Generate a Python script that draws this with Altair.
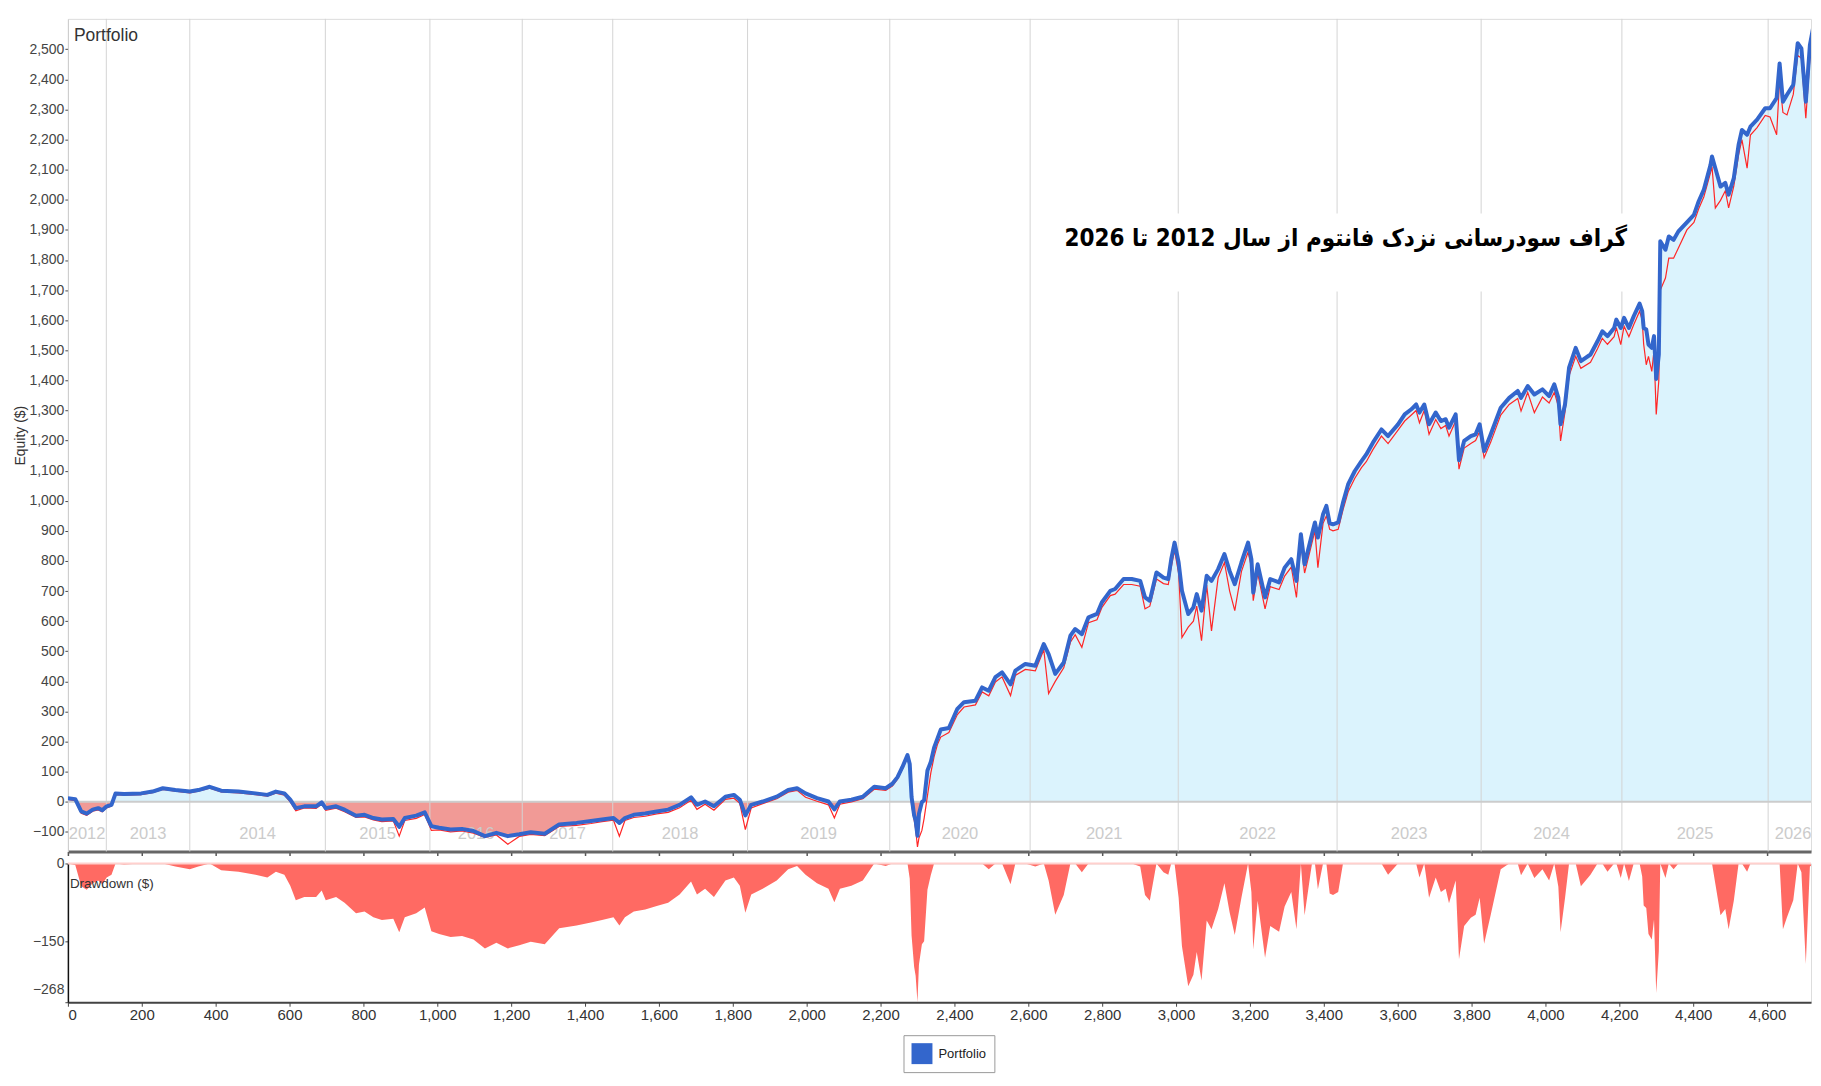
import altair as alt
import pandas as pd

# ---------------- data ----------------
trades = [
    0, 20, 36, 51, 67, 82, 93, 105, 118, 129,
    152, 198, 229, 257, 291, 330, 353, 384, 415, 462,
    508, 540, 563, 586, 602, 617, 640, 672, 687, 698,
    726, 749, 780, 803, 827, 850, 881, 897, 912, 943,
    966, 984, 1005, 1036, 1067, 1098, 1129, 1160, 1191, 1222,
    1253, 1291, 1330, 1377, 1416, 1446, 1477, 1493, 1508, 1532,
    1563, 1594, 1625, 1656, 1687, 1703, 1725, 1749, 1780, 1803,
    1819, 1834, 1850, 1881, 1919, 1950, 1974, 1997, 2028, 2059,
    2075, 2090, 2121, 2152, 2183, 2214, 2232, 2246, 2259, 2273,
    2279, 2284, 2291, 2295, 2300, 2304, 2312, 2318, 2327, 2336,
    2345, 2354, 2363, 2385, 2408, 2426, 2457, 2475, 2493, 2511,
    2529, 2552, 2565, 2592, 2619, 2642, 2655, 2673, 2696, 2714,
    2727, 2745, 2763, 2786, 2799, 2822, 2835, 2858, 2880, 2903,
    2916, 2929, 2947, 2966, 2979, 2987, 2996, 3007, 3016, 3033,
    3047, 3056, 3069, 3083, 3096, 3114, 3131, 3145, 3159, 3177,
    3195, 3204, 3209, 3221, 3241, 3255, 3279, 3294, 3312, 3326,
    3338, 3348, 3368, 3376, 3384, 3398, 3407, 3416, 3425, 3439,
    3452, 3466, 3484, 3502, 3515, 3533, 3556, 3574, 3601, 3619,
    3637, 3650, 3659, 3672, 3685, 3703, 3717, 3730, 3739, 3757,
    3766, 3780, 3798, 3811, 3822, 3834, 3852, 3879, 3902, 3925,
    3934, 3952, 3970, 3992, 4010, 4024, 4035, 4041, 4053, 4064,
    4082, 4096, 4122, 4141, 4154, 4168, 4186, 4192, 4204, 4213,
    4226, 4239, 4255, 4262, 4266, 4273, 4279, 4288, 4294, 4300,
    4307, 4311, 4325, 4334, 4347, 4360, 4383, 4402, 4415, 4429,
    4447, 4451, 4460, 4474, 4487, 4496, 4510, 4523, 4532, 4546,
    4555, 4573, 4595, 4608, 4626, 4634, 4643, 4654, 4671, 4683,
    4693, 4705, 4716, 4729, 4738,
]

equity = [
    12, 9, -32, -39, -26, -21, -28, -15, -10, 28,
    26, 28, 34, 45, 39, 34, 39, 50, 37, 34,
    28, 23, 34, 28, 7, -21, -15, -15, -2, -21,
    -15, -26, -46, -43, -54, -59, -57, -83, -54, -46,
    -35, -81, -86, -92, -90, -97, -114, -103, -114, -108,
    -101, -106, -75, -70, -64, -59, -54, -70, -54, -43,
    -39, -32, -26, -10, 15, -10, 1, -15, 17, 23,
    7, -45, -10, 1, 17, 39, 45, 28, 12, 1,
    -25, 1, 7, 17, 50, 45, 60, 82, 115, 155,
    126, 16, -45, -62, -113, -40, -1, 5, 104, 132,
    180, 210, 240, 245, 309, 331, 336, 380, 369, 414,
    430, 390, 436, 458, 452, 524, 491, 425, 463, 552,
    574, 557, 613, 624, 662, 701, 707, 740, 740, 734,
    679, 668, 762, 745, 740, 806, 861, 795, 701, 624,
    646, 690, 635, 751, 734, 773, 823, 767, 723, 795,
    861, 806, 695, 789, 679, 740, 729, 778, 806, 734,
    889, 789, 889, 928, 878, 955, 983, 925, 922, 928,
    994, 1055, 1099, 1132, 1154, 1193, 1237, 1215, 1254, 1287,
    1304, 1320, 1293, 1320, 1254, 1293, 1265, 1271, 1243, 1287,
    1135, 1199, 1215, 1221, 1254, 1165, 1221, 1309, 1342, 1365,
    1342, 1381, 1353, 1370, 1348, 1387, 1342, 1254, 1320, 1442,
    1508, 1464, 1486, 1530, 1563, 1547, 1574, 1602, 1574, 1608,
    1574, 1613, 1655, 1630, 1574, 1569, 1519, 1508, 1547, 1405,
    1486, 1862, 1834, 1878, 1867, 1895, 1925, 1950, 1995, 2034,
    2116, 2144, 2105, 2044, 2056, 2017, 2072, 2183, 2232, 2216,
    2243, 2266, 2304, 2304, 2338, 2453, 2326, 2349, 2382, 2520,
    2503, 2326, 2514, 2600, 2590,
]

equity_low = [
    8, 4, -38, -45, -31, -27, -33, -20, -14, 24,
    22, 24, 30, 41, 35, 30, 35, 45, 33, 30,
    24, 19, 29, 22, 0, -30, -20, -22, -8, -28,
    -21, -33, -52, -50, -60, -66, -63, -114, -62, -55,
    -42, -95, -93, -100, -97, -104, -118, -110, -141, -115,
    -108, -112, -82, -78, -72, -66, -61, -114, -62, -52,
    -48, -40, -35, -20, 5, -25, -8, -28, 8, 12,
    -5, -92, -20, -6, 10, 32, 38, 15, 2, -10,
    -54, -8, 0, 10, 42, 38, 52, 75, 108, 148,
    110, -10, -60, -90, -150, -120, -95, -55, 20, 95,
    150, 190, 215, 230, 290, 315, 322, 365, 352, 398,
    415, 353, 420, 440, 435, 505, 360, 400, 445, 530,
    555, 513, 595, 605, 645, 685, 690, 722, 722, 716,
    641, 650, 740, 725, 722, 780, 835, 760, 546, 580,
    600, 650, 535, 720, 568, 745, 795, 701, 635, 765,
    830, 780, 668, 760, 641, 715, 705, 750, 780, 679,
    860, 760, 860, 900, 778, 925, 950, 905, 900, 905,
    970, 1030, 1075, 1110, 1130, 1170, 1215, 1190, 1235, 1265,
    1285, 1300, 1259, 1300, 1221, 1270, 1240, 1250, 1215, 1265,
    1105, 1175, 1190, 1200, 1230, 1143, 1195, 1285, 1320, 1340,
    1298, 1360, 1293, 1345, 1325, 1360, 1315, 1199, 1295, 1415,
    1480, 1440, 1460, 1505, 1540, 1520, 1545, 1575, 1519, 1580,
    1545, 1585, 1630, 1600, 1520, 1452, 1480, 1430, 1500, 1287,
    1400, 1700, 1740, 1806, 1806, 1840, 1900, 1925, 1970, 2010,
    2090, 2110, 1973, 1998, 2030, 1973, 2045, 2150, 2200, 2105,
    2215, 2240, 2280, 2275, 2216, 2400, 2290, 2282, 2350, 2480,
    2470, 2271, 2470, 2570, 2565,
]

year_labels = ["2012", "2013", "2014", "2015", "2016", "2017", "2018", "2019",
               "2020", "2021", "2022", "2023", "2024", "2025", "2026"]
year_bounds = [0, 104, 330, 697, 980, 1230, 1475, 1840, 2225, 2605, 3006,
               3436, 3826, 4207, 4603, 4738]

x_ticks = list(range(0, 4701, 200))
y_ticks = list(range(-100, 2501, 100))
dd_ticks = [0, -150, -268]

series_name = "Portfolio"
title_text = "گراف سودرسانی نزدک فانتوم از سال 2012 تا 2026"

# ---------------- layout constants ----------------
X_MAX = 4719
W = 1746
H_TOP = 834
H_DD = 139
TOP_DOMAIN = [-165, 2601]
DD_DOMAIN = [-268, 0]
FONT = "Liberation Sans, Arial, sans-serif"

df = pd.DataFrame({"trade": trades, "equity": equity, "low": equity_low})
df["series"] = series_name
years = pd.DataFrame({
    "year": year_labels,
    "mid": [(a + b) / 2 for a, b in zip(year_bounds[:-1], year_bounds[1:])],
})
grid = pd.DataFrame({"trade": year_bounds[1:-1]})
one = pd.DataFrame({"t": [title_text]})

x_scale = alt.Scale(domain=[0, X_MAX], nice=False, zero=False)
y_scale = alt.Scale(domain=TOP_DOMAIN, nice=False, zero=False)
dd_scale = alt.Scale(domain=DD_DOMAIN, nice=False, zero=False)

top_x_axis = alt.Axis(values=x_ticks, labels=False, ticks=True, tickSize=4, tickColor="#555",
                      tickWidth=1.5, domainColor="#666", domainWidth=3, grid=False, title=None)
top_y_axis = alt.Axis(values=y_ticks, format=",d", labelFont=FONT, labelFontSize=14,
                      labelColor="#444", tickColor="#444", tickSize=3, labelPadding=1,
                      domainColor="#cccccc", domainWidth=1, grid=False, title="Equity ($)",
                      titleFont=FONT, titleFontSize=14,
                      titleFontWeight="normal", titleColor="#333", titlePadding=1)

X_TOP = alt.X("trade:Q", scale=x_scale, axis=top_x_axis)


def y_top(field):
    return alt.Y(field, scale=y_scale, axis=top_y_axis)


base = alt.Chart(df)

pos_fill = base.transform_calculate(
    val="max(datum.equity, 0)", zero="0"
).mark_area(color="#dbf3fd", clip=True).encode(
    x=X_TOP, y=y_top("val:Q"), y2="zero:Q",
)
neg_fill = base.transform_calculate(
    val="min(datum.equity, 0)", zero="0"
).mark_area(color="#f19a96", clip=True).encode(
    x=X_TOP, y=y_top("val:Q"), y2="zero:Q",
)
grid_rules = alt.Chart(grid).mark_rule(color="#d4d4d4", strokeWidth=1).encode(x=X_TOP)
year_text = alt.Chart(years).mark_text(
    font=FONT, fontSize=16.5, color="#cbcbcb", baseline="middle", align="center", clip=True
).encode(
    x=alt.X("mid:Q", scale=x_scale, axis=top_x_axis),
    y=alt.value(H_TOP - 18),
    text="year:N",
)
zero_rule = alt.Chart(pd.DataFrame({"val": [0]})).mark_rule(
    color="#cccccc", strokeWidth=2
).encode(y=y_top("val:Q"))
title_bg = alt.Chart(one).mark_rect(color="white").encode(
    x=alt.value(990), x2=alt.value(1570), y=alt.value(195), y2=alt.value(273)
)
title_mark = alt.Chart(one).mark_text(
    font="DejaVu Sans Condensed, DejaVu Sans", fontWeight="bold", fontSize=24, color="black",
    align="center", baseline="middle"
).encode(x=alt.value(1280), y=alt.value(221), text="t:N")
panel_label = alt.Chart(pd.DataFrame({"t": [series_name]})).mark_text(
    font=FONT, fontSize=17.5, color="#333", align="left", baseline="middle"
).encode(x=alt.value(6), y=alt.value(17), text="t:N")
red_line = base.mark_line(color="#ff2626", strokeWidth=1.2, clip=True).encode(
    x=X_TOP, y=y_top("low:Q"),
)
blue_line = base.mark_line(strokeWidth=4, strokeJoin="round", clip=True).encode(
    x=X_TOP, y=y_top("equity:Q"),
    color=alt.Color(
        "series:N",
        scale=alt.Scale(domain=[series_name], range=["#3366cc"]),
        legend=alt.Legend(
            title=None, orient="none", legendX=837, legendY=1018,
            symbolType="square", symbolSize=440, symbolFillColor="#3366cc",
            symbolStrokeColor="#3366cc", symbolStrokeWidth=0,
            labelFont=FONT, labelFontSize=13, labelColor="#222",
            strokeColor="#9a9a9a", fillColor="white", padding=8, labelOffset=6,
        ),
    ),
)

top = alt.layer(
    pos_fill, neg_fill, grid_rules, year_text, zero_rule, title_bg, title_mark,
    panel_label, red_line, blue_line
).properties(width=W, height=H_TOP)

# ---------------- drawdown panel ----------------
dd_x_axis = alt.Axis(values=x_ticks, format=",d", labelFont=FONT, labelFontSize=15,
                     labelColor="#333", domainColor="#444", domainWidth=2, tickColor="#444",
                     tickSize=4, labelPadding=1, grid=False, title=None)
dd_y_axis = alt.Axis(values=dd_ticks, format="d", labelFont=FONT, labelFontSize=14,
                     labelColor="#444", domainColor="#111", domainWidth=1.5, tickColor="#444",
                     tickSize=3, labelPadding=1, grid=False, title=None,
                     labelBaseline={"condition": {"test": "datum.value < -200", "value": "bottom"},
                                    "value": "middle"},
                     labelOffset={"condition": {"test": "datum.value < -200", "value": -6},
                                  "value": 0})

dd_base = base.transform_window(
    runmax="max(equity)", frame=[None, 0], sort=[alt.SortField("trade")]
).transform_calculate(dd="datum.equity - datum.runmax", zero="0")

dd_area = dd_base.mark_area(color="#ff6a63", clip=True).encode(
    x=alt.X("trade:Q", scale=x_scale, axis=dd_x_axis),
    y=alt.Y("dd:Q", scale=dd_scale, axis=dd_y_axis),
    y2="zero:Q",
)
dd_zero = alt.Chart(pd.DataFrame({"dd": [0]})).mark_rule(color="#ffd0cd", strokeWidth=2).encode(
    y=alt.Y("dd:Q", scale=dd_scale, axis=dd_y_axis)
)
dd_label = alt.Chart(pd.DataFrame({"t": ["Drawdown ($)"]})).mark_text(
    font=FONT, fontSize=13.5, color="#333", align="left", baseline="middle"
).encode(x=alt.value(2), y=alt.value(21), text="t:N")

bottom = alt.layer(dd_area, dd_zero, dd_label).properties(width=W, height=H_DD)

chart = alt.vconcat(top, bottom, spacing=12, bounds="flush").properties(
    padding={"left": 5, "top": 9, "right": 0, "bottom": 0}
).configure_view(stroke=None).configure_legend(strokeWidth=2).configure(background="white")

chart.save("out.html", embed_options={"renderer": "svg", "actions": False})
